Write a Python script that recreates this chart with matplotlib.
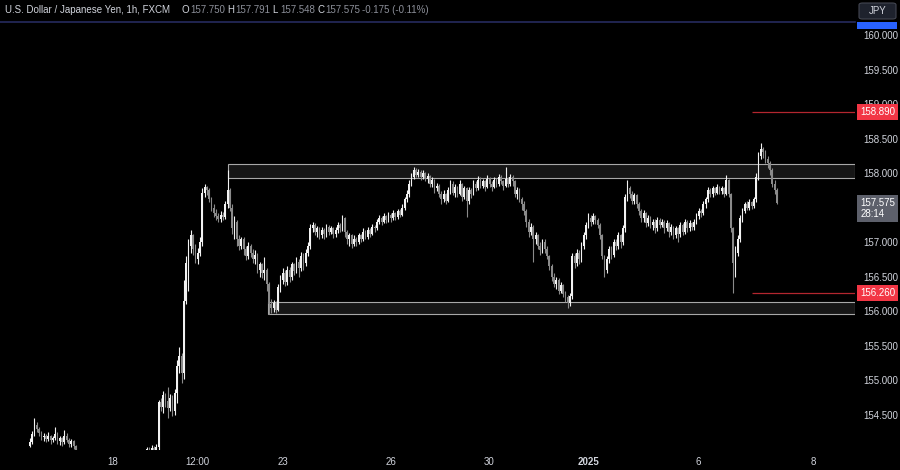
#!/usr/bin/env python3
"""
USD/JPY 1h candlestick chart, TradingView dark style.
Two horizontal zones, two red levels and a right-hand price scale.
"""

import numpy as np
import matplotlib.pyplot as plt
from matplotlib import font_manager
from matplotlib.patches import Rectangle, FancyBboxPatch
from matplotlib.transforms import blended_transform_factory

# ---------------- data ----------------
first_open = 154.05

closes = [
    154.10, 154.22, 154.35, 154.30, 154.24, 154.18, 154.20, 154.15, 154.19, 154.14,
    154.17, 154.22, 154.12, 154.16, 154.10, 154.20, 154.14, 154.08, 154.12, 154.05,
    153.92, 153.85, 153.80, 153.72, 153.76, 153.70, 153.65, 153.68, 153.62, 153.58,
    153.64, 153.60, 153.66, 153.70, 153.63, 153.68, 153.72, 153.66, 153.74, 153.78,
    153.70, 153.75, 153.80, 153.74, 153.69, 153.72, 153.78, 153.82, 153.76, 153.85,
    153.90, 154.00, 153.96, 154.02, 153.98, 154.03, 154.68, 154.62, 154.78, 154.70,
    154.60, 154.75, 154.55, 154.82, 155.20, 155.35, 155.10, 156.15, 156.70, 156.95,
    157.10, 156.90, 156.75, 156.85, 157.00, 157.72, 157.80, 157.75, 157.62, 157.50,
    157.42, 157.38, 157.33, 157.40, 157.36, 157.55, 157.75, 157.50, 157.20, 157.30,
    157.05, 156.95, 157.05, 156.90, 156.80, 156.95, 156.85, 156.75, 156.82, 156.60,
    156.68, 156.55, 156.60, 156.40, 156.10, 156.05, 156.12, 156.02, 156.35, 156.45,
    156.55, 156.42, 156.60, 156.50, 156.68, 156.58, 156.72, 156.62, 156.80, 156.70,
    156.85, 156.95, 157.20, 157.25, 157.15, 157.20, 157.10, 157.18, 157.12, 157.22,
    157.15, 157.20, 157.12, 157.18, 157.25, 157.20, 157.35, 157.15, 157.05, 157.10,
    156.98, 157.05, 157.00, 157.10, 157.05, 157.15, 157.08, 157.18, 157.12, 157.22,
    157.20, 157.30, 157.35, 157.30, 157.38, 157.32, 157.40, 157.35, 157.42, 157.36,
    157.45, 157.40, 157.50, 157.62, 157.70, 157.85, 157.95, 158.05, 157.98, 158.02,
    157.95, 158.00, 157.92, 157.96, 157.85, 157.90, 157.78, 157.82, 157.70, 157.62,
    157.70, 157.60, 157.75, 157.85, 157.72, 157.80, 157.70, 157.85, 157.65, 157.78,
    157.60, 157.75, 157.70, 157.85, 157.78, 157.90, 157.82, 157.88, 157.80, 157.92,
    157.85, 157.80, 157.90, 157.85, 157.95, 157.88, 157.82, 157.92, 157.85, 157.95,
    157.88, 157.70, 157.75, 157.62, 157.55, 157.45, 157.30, 157.15, 157.22, 157.05,
    157.10, 156.95, 156.88, 157.00, 156.90, 156.80, 156.65, 156.50, 156.40, 156.45,
    156.30, 156.38, 156.25, 156.20, 156.12, 156.22, 156.80, 156.70, 156.85, 156.75,
    156.95, 157.10, 157.25, 157.35, 157.30, 157.38, 157.32, 157.25, 157.10, 156.80,
    156.60, 156.75, 156.90, 156.82, 157.00, 156.95, 157.10, 157.00, 157.20, 157.65,
    157.78, 157.70, 157.60, 157.68, 157.55, 157.45, 157.35, 157.42, 157.28, 157.35,
    157.25, 157.30, 157.20, 157.32, 157.25, 157.30, 157.20, 157.28, 157.15, 157.22,
    157.10, 157.20, 157.12, 157.25, 157.15, 157.30, 157.20, 157.28, 157.22, 157.30,
    157.38, 157.45, 157.42, 157.55, 157.62, 157.75, 157.70, 157.78, 157.72, 157.80,
    157.74, 157.78, 157.70, 157.90, 157.70, 157.20, 156.70, 156.85, 157.05, 157.35,
    157.45, 157.55, 157.50, 157.58, 157.52, 157.62, 157.95, 158.25, 158.35, 158.30,
    158.20, 158.15, 158.05, 157.85, 157.750, 157.575,
]

highs = [
    154.16, 154.26, 154.46, 154.40, 154.33, 154.27, 154.24, 154.22, 154.25, 154.21,
    154.20, 154.32, 154.25, 154.19, 154.18, 154.28, 154.23, 154.16, 154.15, 154.14,
    154.06, 153.95, 153.90, 153.84, 153.82, 153.80, 153.74, 153.72, 153.71, 153.66,
    153.68, 153.70, 153.70, 153.75, 153.72, 153.73, 153.78, 153.75, 153.80, 153.85,
    153.82, 153.80, 153.86, 153.84, 153.78, 153.77, 153.83, 153.88, 153.85, 153.90,
    153.95, 154.04, 154.03, 154.06, 154.05, 154.07, 154.72, 154.75, 154.85, 154.82,
    154.90, 154.80, 154.78, 154.88, 155.29, 155.48, 155.40, 156.45, 156.80, 157.05,
    157.18, 157.12, 156.98, 156.92, 157.08, 157.78, 157.85, 157.82, 157.78, 157.66,
    157.55, 157.48, 157.42, 157.45, 157.44, 157.60, 158.05, 157.78, 157.55, 157.38,
    157.32, 157.10, 157.08, 157.07, 156.95, 157.00, 156.98, 156.90, 156.88, 156.85,
    156.72, 156.70, 156.78, 156.62, 156.42, 156.18, 156.16, 156.15, 156.40, 156.52,
    156.62, 156.60, 156.66, 156.64, 156.72, 156.70, 156.78, 156.75, 156.86, 156.84,
    156.90, 157.00, 157.27, 157.30, 157.28, 157.24, 157.22, 157.22, 157.20, 157.26,
    157.25, 157.24, 157.22, 157.22, 157.30, 157.28, 157.40, 157.37, 157.18, 157.14,
    157.12, 157.10, 157.08, 157.14, 157.12, 157.20, 157.18, 157.22, 157.20, 157.26,
    157.25, 157.34, 157.40, 157.38, 157.42, 157.40, 157.44, 157.43, 157.46, 157.44,
    157.48, 157.48, 157.55, 157.66, 157.75, 157.90, 158.00, 158.09, 158.08, 158.06,
    158.04, 158.05, 158.02, 158.00, 157.98, 157.95, 157.92, 157.86, 157.84, 157.74,
    157.75, 157.72, 157.80, 157.90, 157.88, 157.84, 157.82, 157.90, 157.86, 157.82,
    157.80, 157.80, 157.78, 157.90, 157.88, 157.96, 157.94, 157.92, 157.90, 157.98,
    157.95, 157.88, 157.94, 157.93, 157.99, 157.97, 157.90, 158.09, 157.95, 157.99,
    157.98, 157.90, 157.80, 157.78, 157.66, 157.60, 157.48, 157.34, 157.28, 157.25,
    157.15, 157.12, 157.00, 157.05, 157.04, 156.94, 156.82, 156.68, 156.55, 156.50,
    156.48, 156.42, 156.40, 156.30, 156.24, 156.26, 156.85, 156.84, 156.90, 156.88,
    157.00, 157.15, 157.30, 157.42, 157.40, 157.42, 157.40, 157.35, 157.28, 157.12,
    156.82, 156.80, 156.95, 156.94, 157.05, 157.05, 157.15, 157.12, 157.25, 157.70,
    157.90, 157.82, 157.74, 157.72, 157.70, 157.58, 157.48, 157.46, 157.44, 157.40,
    157.38, 157.34, 157.33, 157.36, 157.35, 157.34, 157.32, 157.32, 157.30, 157.26,
    157.24, 157.24, 157.22, 157.30, 157.28, 157.34, 157.32, 157.32, 157.30, 157.34,
    157.42, 157.50, 157.48, 157.60, 157.66, 157.80, 157.78, 157.82, 157.80, 157.84,
    157.82, 157.82, 157.80, 157.97, 157.92, 157.72, 157.22, 156.95, 157.10, 157.40,
    157.50, 157.58, 157.60, 157.62, 157.60, 157.66, 158.00, 158.30, 158.43, 158.38,
    158.34, 158.25, 158.18, 158.08, 157.90, 157.791,
]

lows = [
    154.03, 154.08, 154.20, 154.25, 154.20, 154.14, 154.12, 154.10, 154.12, 154.08,
    154.10, 154.14, 154.08, 154.06, 154.05, 154.08, 154.10, 154.03, 154.04, 154.00,
    153.88, 153.80, 153.74, 153.68, 153.66, 153.64, 153.60, 153.58, 153.55, 153.52,
    153.54, 153.56, 153.57, 153.62, 153.58, 153.60, 153.64, 153.61, 153.64, 153.70,
    153.66, 153.66, 153.72, 153.70, 153.62, 153.64, 153.68, 153.74, 153.72, 153.73,
    153.82, 153.86, 153.92, 153.94, 153.95, 153.92, 153.98, 154.55, 154.52, 154.62,
    154.46, 154.55, 154.48, 154.50, 154.67, 155.10, 154.96, 155.02, 156.10, 156.30,
    156.85, 156.82, 156.70, 156.68, 156.80, 156.95, 157.65, 157.68, 157.58, 157.45,
    157.36, 157.32, 157.30, 157.30, 157.32, 157.34, 157.50, 157.45, 157.12, 157.05,
    156.95, 156.88, 156.90, 156.82, 156.74, 156.76, 156.78, 156.70, 156.68, 156.55,
    156.50, 156.48, 156.45, 156.30, 155.96, 155.98, 155.99, 155.97, 156.00, 156.28,
    156.40, 156.36, 156.38, 156.42, 156.45, 156.52, 156.55, 156.50, 156.58, 156.60,
    156.66, 156.80, 156.90, 157.15, 157.10, 157.08, 157.04, 157.06, 157.05, 157.08,
    157.10, 157.12, 157.06, 157.08, 157.14, 157.15, 157.16, 157.08, 156.98, 156.95,
    156.92, 156.94, 156.95, 156.97, 157.00, 157.02, 157.04, 157.05, 157.08, 157.10,
    157.15, 157.18, 157.26, 157.25, 157.28, 157.28, 157.30, 157.30, 157.32, 157.32,
    157.34, 157.36, 157.38, 157.46, 157.58, 157.66, 157.82, 157.92, 157.94, 157.94,
    157.90, 157.92, 157.88, 157.86, 157.80, 157.80, 157.72, 157.74, 157.66, 157.56,
    157.58, 157.55, 157.58, 157.70, 157.68, 157.66, 157.65, 157.68, 157.60, 157.62,
    157.36, 157.55, 157.64, 157.68, 157.74, 157.75, 157.78, 157.78, 157.74, 157.78,
    157.80, 157.74, 157.78, 157.80, 157.82, 157.84, 157.76, 157.80, 157.80, 157.82,
    157.82, 157.65, 157.62, 157.58, 157.46, 157.40, 157.22, 157.08, 157.10, 156.72,
    156.98, 156.90, 156.82, 156.85, 156.84, 156.75, 156.60, 156.44, 156.35, 156.32,
    156.25, 156.26, 156.20, 156.14, 156.04, 156.08, 156.18, 156.62, 156.65, 156.68,
    156.72, 156.90, 157.05, 157.20, 157.24, 157.26, 157.26, 157.20, 157.05, 156.75,
    156.49, 156.55, 156.70, 156.76, 156.78, 156.88, 156.90, 156.92, 156.96, 157.15,
    157.60, 157.64, 157.56, 157.56, 157.50, 157.40, 157.30, 157.30, 157.22, 157.24,
    157.20, 157.18, 157.14, 157.16, 157.20, 157.22, 157.14, 157.16, 157.08, 157.10,
    157.05, 157.06, 157.00, 157.08, 157.10, 157.12, 157.15, 157.16, 157.18, 157.18,
    157.26, 157.34, 157.36, 157.40, 157.50, 157.58, 157.65, 157.66, 157.68, 157.70,
    157.70, 157.70, 157.66, 157.68, 157.65, 157.15, 156.26, 156.50, 156.80, 157.00,
    157.30, 157.42, 157.46, 157.46, 157.48, 157.50, 157.58, 157.90, 158.20, 158.22,
    158.15, 158.08, 157.98, 157.80, 157.70, 157.548,
]

# time axis labels (bar index, text)
tick_pos = [36, 73, 110, 157, 200, 243, 291, 341]
tick_labels = ["18", "12:00", "23", "26", "30", "2025", "6", "8"]

# price scale (157.500 is hidden under the last-price label, as on the chart)
price_ticks = [154.5, 155.0, 155.5, 156.0, 156.5, 157.0, 158.0, 158.5, 159.0, 159.5, 160.0]

# zones (low, high, first bar) and red levels (price, first bar)
upper_zone = (157.93, 158.14, 86)
lower_zone = (155.96, 156.14, 103.5)
levels = [(158.89, 314), (156.26, 314)]

header_title = "U.S. Dollar / Japanese Yen, 1h, FXCM"
header_ohlc = [("O", "157.750"), ("H", "157.791"), ("L", "157.548"), ("C", "157.575")]
header_change = "-0.175 (-0.11%)"
countdown = "28:14"

# colours
BG = "#000000"
UP = "#f2f2f2"
DOWN = "#8a8a8a"
TXT = "#d1d4dc"
DIM = "#8c8f99"
RED = "#f23645"
LINE_RED = "#b3262f"


def pick_font():
    names = {f.name for f in font_manager.fontManager.ttflist}
    for name in ["Liberation Sans Narrow", "Liberation Sans", "DejaVu Sans"]:
        if name in names:
            return name
    return "DejaVu Sans"


def main():
    font = pick_font()
    plt.rcParams['font.family'] = [font, 'DejaVu Sans']

    o = np.array([first_open] + closes[:-1])
    c = np.array(closes)
    h = np.array(highs)
    l = np.array(lows)
    x = np.arange(len(c))
    up = c >= o

    fig = plt.figure(figsize=(9, 4.7), dpi=100)
    fig.patch.set_facecolor(BG)
    ax = fig.add_axes([0, 20 / 470, 855 / 900, 428 / 470])
    ax.set_facecolor(BG)

    ax.set_xlim(-13, 359)
    ax.set_ylim(153.99, 160.19)

    # zones
    for lo, hi, start in (upper_zone, lower_zone):
        ax.add_patch(Rectangle((start, lo), 359 - start, hi - lo, facecolor="#161616",
                               edgecolor="#a8a8a8", linewidth=0.8, zorder=1))

    # candles
    colors = np.where(up, UP, DOWN)
    ax.vlines(x, l, h, colors=colors, linewidth=0.8, zorder=2)
    body_lo = np.minimum(o, c)
    body_h = np.maximum(np.abs(c - o), 0.012)
    ax.bar(x, body_h, bottom=body_lo, width=0.75, color=colors, linewidth=0, zorder=3)

    # red levels
    for price, start in levels:
        ax.hlines(price, start, 359, colors=LINE_RED, linewidth=0.9, zorder=2)

    # spines
    for s in ax.spines.values():
        s.set_visible(False)
    ax.spines['top'].set_visible(True)
    ax.spines['top'].set_color("#262b5e")
    ax.spines['top'].set_linewidth(1.2)

    # price scale on the right
    ax.yaxis.tick_right()
    ax.set_yticks(price_ticks, [f"{p:.3f}" for p in price_ticks])
    ax.tick_params(axis='y', length=0, pad=6, labelsize=7, labelcolor=TXT)

    # time axis
    ax.set_xticks(tick_pos, tick_labels)
    ax.tick_params(axis='x', length=0, pad=5, labelsize=7, labelcolor=TXT)
    for t in ax.get_xticklabels():
        if t.get_text() == "2025":
            t.set_fontweight('bold')

    # price labels on the scale
    trans = blended_transform_factory(ax.transAxes, ax.transData)
    for price, _ in levels:
        ax.text(1.006, price, f"{price:.3f}", transform=trans, ha='left', va='center',
                fontsize=7, color='white', clip_on=False, zorder=10,
                bbox=dict(boxstyle='square,pad=0.3', fc=RED, ec='none'))
    ax.text(1.006, closes[-1] - 0.085, f"{closes[-1]:.3f}\n{countdown}", transform=trans,
            ha='left', va='center', fontsize=7, color='white', clip_on=False, zorder=10,
            linespacing=1.15,
            bbox=dict(boxstyle='square,pad=0.3', fc="#5d606b", ec='none'))

    # blue label peeking at the top of the scale
    fig.patches.append(Rectangle((857 / 900, 441 / 470), 40 / 900, 7 / 470,
                                 transform=fig.transFigure, facecolor="#2962ff",
                                 edgecolor='none', zorder=5))

    # JPY button
    fig.patches.append(FancyBboxPatch((859 / 900, 451 / 470), 37 / 900, 16 / 470,
                                      boxstyle="round,pad=0,rounding_size=0.004",
                                      transform=fig.transFigure, facecolor="#1e222d",
                                      edgecolor="#434651", linewidth=0.8))
    fig.text(877.5 / 900, 459 / 470, "JPY", ha='center', va='center', fontsize=7, color=TXT)

    # header line
    hy = 460 / 470
    fig.text(5 / 900, hy, header_title, ha='left', va='center', fontsize=7, color=TXT)
    xpos = 182
    for letter, val in header_ohlc:
        fig.text(xpos / 900, hy, letter, ha='left', va='center', fontsize=7, color=TXT)
        fig.text((xpos + 8.5) / 900, hy, val, ha='left', va='center', fontsize=7, color=DIM)
        xpos += 45
    fig.text(362 / 900, hy, header_change, ha='left', va='center', fontsize=7, color=DIM)

    fig.savefig("out.png", dpi=100, facecolor=BG)
    plt.close(fig)


if __name__ == "__main__":
    main()
